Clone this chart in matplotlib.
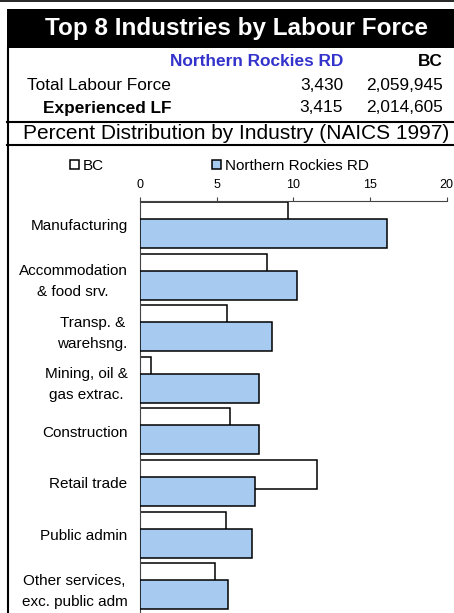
import numpy as np
import matplotlib.pyplot as plt
from matplotlib.patches import Rectangle, Patch

plt.rcParams['font.family'] = ['Liberation Sans', 'DejaVu Sans']

# date
industrii = ['Manufacturing', 'Accommodation\n& food srv.', 'Transp. &\nwarehsng.',
             'Mining, oil &\ngas extrac.', 'Construction', 'Retail trade',
             'Public admin', 'Other services,\nexc. public adm']
bc = [9.67, 8.31, 5.67, 0.70, 5.89, 11.57, 5.61, 4.87]
nr = [16.09, 10.26, 8.63, 7.74, 7.74, 7.48, 7.33, 5.72]
ticks_x = [0, 5, 10, 15, 20]

regiune = 'Northern Rockies RD'
total_lf = ['3,430', '2,059,945']
exp_lf = ['3,415', '2,014,605']

W, H = 454, 613
fig = plt.figure(figsize=(W / 100, H / 100), dpi=100)


def fx(px):
    return px / W


def fy(py):
    return 1 - py / H


# antet
fig.add_artist(plt.Line2D([0, 1], [fy(0.7), fy(0.7)], color='black', lw=1.2))
fig.add_artist(Rectangle((fx(7), fy(48)), fx(W - 7), (48 - 9) / H,
                         facecolor='black', edgecolor='none'))
fig.text(fx(237), fy(29), 'Top 8 Industries by Labour Force', color='white',
         fontsize=17.5, fontweight='bold', ha='center', va='center')

fs = 12.4
fig.text(fx(343), fy(62), regiune, color='#3333cc', fontsize=fs,
         fontweight='bold', ha='right', va='center')
fig.text(fx(443), fy(62), 'BC', fontsize=fs, fontweight='bold', ha='right', va='center')
fig.text(fx(27), fy(86), 'Total Labour Force', fontsize=fs, ha='left', va='center')
fig.text(fx(343), fy(86), total_lf[0], fontsize=fs, ha='right', va='center')
fig.text(fx(443), fy(86), total_lf[1], fontsize=fs, ha='right', va='center')
fig.text(fx(43), fy(108), 'Experienced LF', fontsize=fs, fontweight='bold',
         ha='left', va='center')
fig.text(fx(343), fy(108), exp_lf[0], fontsize=fs, ha='right', va='center')
fig.text(fx(443), fy(108), exp_lf[1], fontsize=fs, ha='right', va='center')

for yy in [122, 145]:
    fig.add_artist(plt.Line2D([fx(7), 1], [fy(yy), fy(yy)], color='black', lw=1.5))
fig.add_artist(plt.Line2D([fx(7.5), fx(7.5)], [fy(48), 0], color='black', lw=1.5))
fig.text(fx(236.5), fy(133.5), 'Percent Distribution by Industry (NAICS 1997)',
         fontsize=15, ha='center', va='center')

# grafic
ax = fig.add_axes([fx(140), 0, fx(446.7) - fx(140), fy(201)])
y = np.arange(len(industrii))
ax.barh(y - 0.165, bc, height=0.56, color='white', edgecolor='black', lw=1.1,
        label='BC', zorder=2)
ax.barh(y + 0.165, nr, height=0.56, color='#a6caf0', edgecolor='black', lw=1.1,
        label=regiune, zorder=3)
ax.set_xlim(0, 20)
ax.set_ylim(-0.465 + 412 / 51.6, -0.465)
ax.set_xticks(ticks_x)
ax.xaxis.tick_top()
ax.tick_params(axis='x', labelsize=9, length=3, width=0.8, pad=4.5, color='#444444')
ax.set_yticks(y)
ax.set_yticklabels(industrii, fontsize=11, linespacing=1.65, multialignment='center')
ax.tick_params(axis='y', length=0, pad=9)
ax.spines['right'].set_visible(False)
ax.spines['bottom'].set_visible(False)
ax.spines['top'].set_color('#444444')
ax.spines['left'].set_color('#444444')
ax.patch.set_alpha(0)

handles = [Patch(facecolor='white', edgecolor='black', lw=1.1),
           Patch(facecolor='#a6caf0', edgecolor='black', lw=1.1)]
fig.legend(handles, ['BC', regiune], ncol=2, frameon=False, fontsize=11,
           loc='center left', bbox_to_anchor=(fx(56), fy(166)),
           handlelength=0.6, handleheight=0.6, handletextpad=0.25,
           columnspacing=7.1)

fig.savefig('out.png', dpi=100)
